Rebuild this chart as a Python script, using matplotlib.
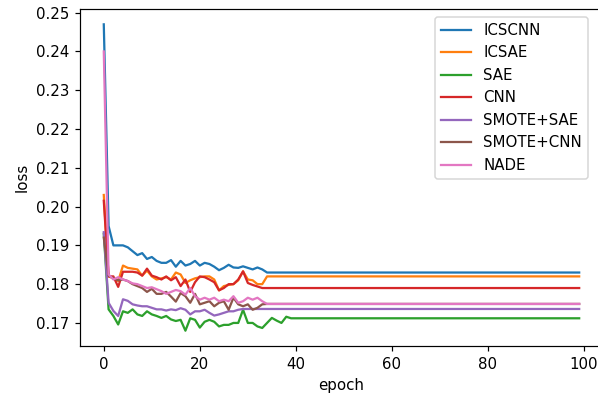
import numpy as np
import matplotlib
matplotlib.use("Agg")
import matplotlib.pyplot as plt

# loss per epoch; every series goes flat after ~epoch 40
icscnn = [0.247, 0.195, 0.190, 0.190, 0.190, 0.1895, 0.1885, 0.1875, 0.188, 0.1865,
          0.187, 0.186, 0.1855, 0.1855, 0.1862, 0.1845, 0.186, 0.1848, 0.1852, 0.186,
          0.1848, 0.1855, 0.1852, 0.1845, 0.1836, 0.1842, 0.185, 0.1843, 0.1842, 0.1846,
          0.1842, 0.1838, 0.1843, 0.1838]
icsae = [0.203, 0.182, 0.1815, 0.1808, 0.1848, 0.1842, 0.184, 0.1838, 0.1822, 0.1835,
         0.182, 0.1812, 0.1815, 0.1818, 0.1812, 0.183, 0.1825, 0.1803, 0.181, 0.1815,
         0.1818, 0.182, 0.182, 0.1812, 0.1784, 0.1795, 0.1798, 0.180, 0.181, 0.1833,
         0.1812, 0.181, 0.180, 0.180]
sae = [0.193, 0.1735, 0.1718, 0.1696, 0.173, 0.1726, 0.1735, 0.1722, 0.1718, 0.173,
       0.1722, 0.1718, 0.1713, 0.1718, 0.1709, 0.1705, 0.1708, 0.168, 0.1712, 0.1708,
       0.1688, 0.1703, 0.1708, 0.1703, 0.1691, 0.1695, 0.1695, 0.170, 0.170, 0.1734,
       0.170, 0.170, 0.1691, 0.1687, 0.170, 0.1713, 0.1706, 0.170, 0.1716]
cnn = [0.2015, 0.182, 0.182, 0.1793, 0.1832, 0.1832, 0.1832, 0.183, 0.1822, 0.184,
       0.1822, 0.1818, 0.1812, 0.182, 0.181, 0.1818, 0.1795, 0.1812, 0.178, 0.1805,
       0.182, 0.1818, 0.1812, 0.1805, 0.1784, 0.179, 0.180, 0.180, 0.1812, 0.1833,
       0.1803, 0.1798, 0.1794, 0.179]
smote_sae = [0.1934, 0.1752, 0.1731, 0.1718, 0.1761, 0.1757, 0.1748, 0.1745, 0.1743, 0.1743,
             0.1739, 0.1735, 0.1735, 0.1732, 0.1735, 0.1733, 0.1738, 0.1734, 0.1722, 0.173,
             0.173, 0.1734, 0.1726, 0.1719, 0.1722, 0.1726, 0.173, 0.173, 0.1734]
smote_cnn = [0.192, 0.1822, 0.1815, 0.181, 0.1812, 0.1808, 0.180, 0.1795, 0.179, 0.178,
             0.1788, 0.1775, 0.1775, 0.178, 0.1768, 0.1755, 0.1777, 0.1769, 0.1752, 0.1775,
             0.1748, 0.1752, 0.1756, 0.1743, 0.1752, 0.1756, 0.1734, 0.1765, 0.1748, 0.1743,
             0.1748, 0.1734, 0.1739, 0.1748]
nade = [0.240, 0.1825, 0.1812, 0.1818, 0.1812, 0.1808, 0.1802, 0.180, 0.1795, 0.179,
        0.1792, 0.1787, 0.1782, 0.1775, 0.178, 0.1785, 0.1782, 0.1773, 0.179, 0.1769,
        0.176, 0.1765, 0.176, 0.1765, 0.1756, 0.176, 0.1756, 0.1769, 0.1752, 0.1756,
        0.1765, 0.176, 0.1765, 0.1756]

# value each series settles at for the rest of training
final = {"ICSCNN": 0.183, "ICSAE": 0.182, "SAE": 0.1712, "CNN": 0.179,
         "SMOTE+SAE": 0.1736, "SMOTE+CNN": 0.1749, "NADE": 0.1749}
n_epochs = 100


def pad(values, last):
    return values + [last] * (n_epochs - len(values))


series = [
    ("ICSCNN", icscnn),
    ("ICSAE", icsae),
    ("SAE", sae),
    ("CNN", cnn),
    ("SMOTE+SAE", smote_sae),
    ("SMOTE+CNN", smote_cnn),
    ("NADE", nade),
]

dpi = 108
fig = plt.figure(figsize=(598 / dpi, 394 / dpi), dpi=dpi)
# the reference is cut on the right, so the axes run past the figure edge
ax = fig.add_axes([0.1338, 0.1218, 0.8745, 0.8553])

epochs = np.arange(n_epochs)
for name, vals in series:
    ax.plot(epochs, pad(vals, final[name]), label=name)

ax.set_xlabel("epoch")
ax.set_ylabel("loss")
ax.legend(loc="upper right", bbox_to_anchor=(0.9833, 0.9569),
          bbox_transform=fig.transFigure, borderaxespad=0)

fig.savefig("out.png", dpi=dpi)
